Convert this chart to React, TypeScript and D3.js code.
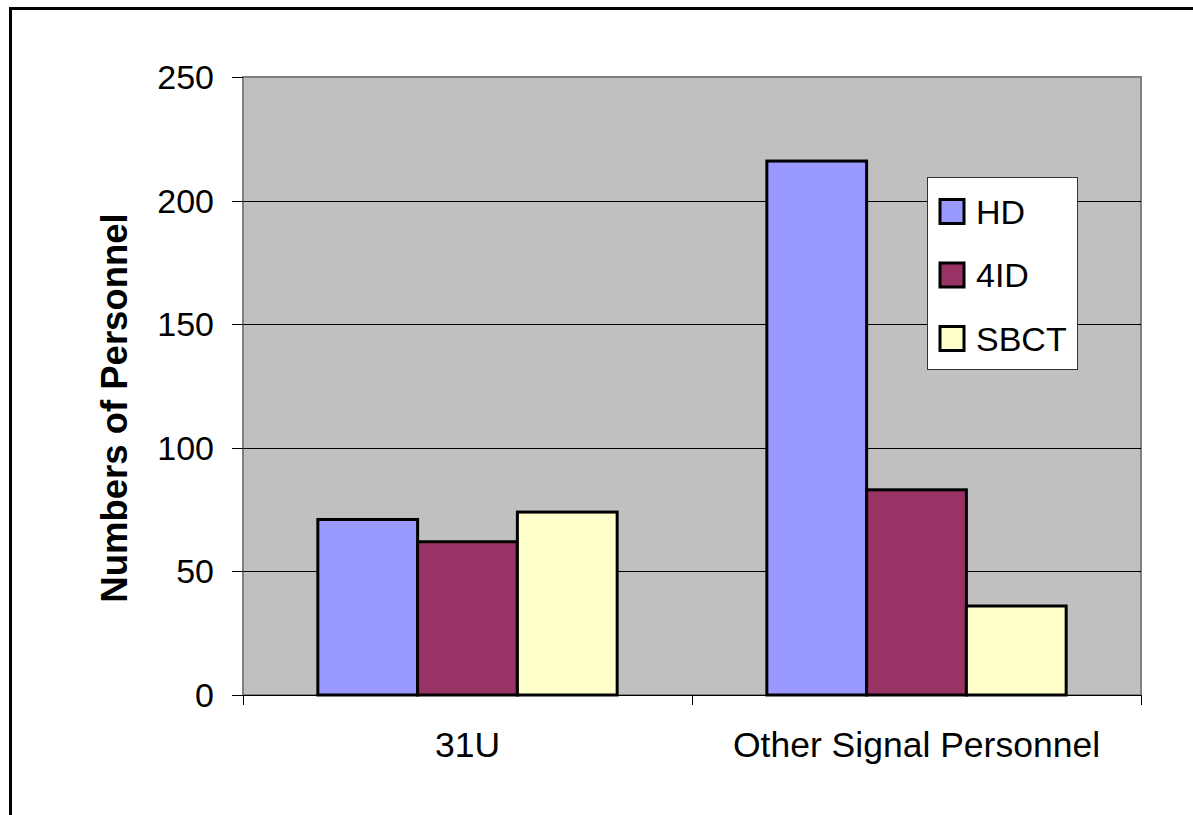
import React from "react";
import * as d3 from "d3";

const categories = ["31U", "Other Signal Personnel"];
const seriesNames = ["HD", "4ID", "SBCT"];
const hdValues = [71, 216];
const id4Values = [62, 83];
const sbctValues = [74, 36];
const yTicks = [0, 50, 100, 150, 200, 250];
const colors = ["#9999FF", "#993366", "#FFFFCC"];

const W = 1193;
const H = 815;
const plot = { left: 243, right: 1141, top: 77, bottom: 695 };
const FONT = "'Liberation Sans', Arial, sans-serif";

export default function App() {
  const series = [hdValues, id4Values, sbctValues];
  const x0 = d3.scaleBand<string>().domain(categories).range([plot.left, plot.right]).paddingInner(0).paddingOuter(0);
  const x1 = d3
    .scaleBand<string>()
    .domain(seriesNames)
    .range([0, x0.bandwidth()])
    .paddingInner(0)
    .paddingOuter(0.75);
  const y = d3.scaleLinear().domain([0, 250]).range([plot.bottom, plot.top]);

  const xTickPositions = [plot.left, ...categories.map((c) => (x0(c) as number) + x0.bandwidth())];

  const legend = { x: 927, y: 177, w: 150, h: 192 };
  const legendRowY = [211.5, 275, 338.5];

  return (
    <div style={{ position: "absolute", left: 0, top: 0, width: W, height: H, overflow: "hidden", background: "#fff" }}>
      <svg width={W} height={H} style={{ display: "block" }}>
        <rect x={0} y={0} width={W} height={H} fill="#fff" />
        {/* outer border */}
        <rect x={10.5} y={8.5} width={W + 20} height={H + 20} fill="none" stroke="#000" strokeWidth={3} />
        {/* plot area */}
        <rect
          x={plot.left}
          y={plot.top}
          width={plot.right - plot.left}
          height={plot.bottom - plot.top}
          fill="#C0C0C0"
          stroke="#808080"
          strokeWidth={2}
        />
        {/* gridlines */}
        {yTicks
          .filter((t) => t > 0 && t < 250)
          .map((t) => (
            <line key={"g" + t} x1={plot.left} x2={plot.right} y1={Math.round(y(t)) + 0.5} y2={Math.round(y(t)) + 0.5} stroke="#000" strokeWidth={1} />
          ))}
        {/* bars */}
        {categories.map((c, ci) =>
          seriesNames.map((s, si) => {
            const bx = (x0(c) as number) + (x1(s) as number);
            const v = series[si][ci];
            return (
              <rect
                key={c + s}
                x={bx}
                y={y(v)}
                width={x1.bandwidth()}
                height={plot.bottom - y(v)}
                fill={colors[si]}
                stroke="#000"
                strokeWidth={3}
              />
            );
          })
        )}
        {/* y axis */}
        <line x1={plot.left} x2={plot.left} y1={plot.top} y2={plot.bottom} stroke="#808080" strokeWidth={1} />
        {yTicks.map((t) => (
          <g key={"y" + t}>
            <line x1={232} x2={plot.left} y1={Math.round(y(t)) + 0.5} y2={Math.round(y(t)) + 0.5} stroke="#000" strokeWidth={1} />
            <text x={214} y={y(t)} textAnchor="end" dominantBaseline="central" fontFamily={FONT} fontSize={34} fill="#000">
              {t}
            </text>
          </g>
        ))}
        {/* x axis */}
        <line x1={plot.left} x2={plot.right} y1={plot.bottom + 0.5} y2={plot.bottom + 0.5} stroke="#000" strokeWidth={1} />
        {xTickPositions.map((px, i) => (
          <line key={"xt" + i} x1={px + 0.5} x2={px + 0.5} y1={plot.bottom} y2={plot.bottom + 10} stroke="#000" strokeWidth={1} />
        ))}
        {categories.map((c) => (
          <text
            key={"xl" + c}
            x={(x0(c) as number) + x0.bandwidth() / 2}
            y={757}
            textAnchor="middle"
            fontFamily={FONT}
            fontSize={35.5}
            fill="#000"
          >
            {c}
          </text>
        ))}
        {/* y title */}
        <text
          transform={`translate(127, 408) rotate(-90)`}
          textAnchor="middle"
          fontFamily={FONT}
          fontSize={36.5}
          fontWeight="bold"
          fill="#000"
        >
          Numbers of Personnel
        </text>
        {/* legend */}
        <rect x={legend.x + 0.5} y={legend.y + 0.5} width={legend.w} height={legend.h} fill="#fff" stroke="#333" strokeWidth={1} />
        {seriesNames.map((s, i) => (
          <g key={"lg" + s}>
            <rect x={940} y={legendRowY[i] - 12} width={24} height={24} fill={colors[i]} stroke="#000" strokeWidth={3} />
            <text x={976} y={legendRowY[i]} dominantBaseline="central" fontFamily={FONT} fontSize={34} fill="#000">
              {s}
            </text>
          </g>
        ))}
      </svg>
    </div>
  );
}
